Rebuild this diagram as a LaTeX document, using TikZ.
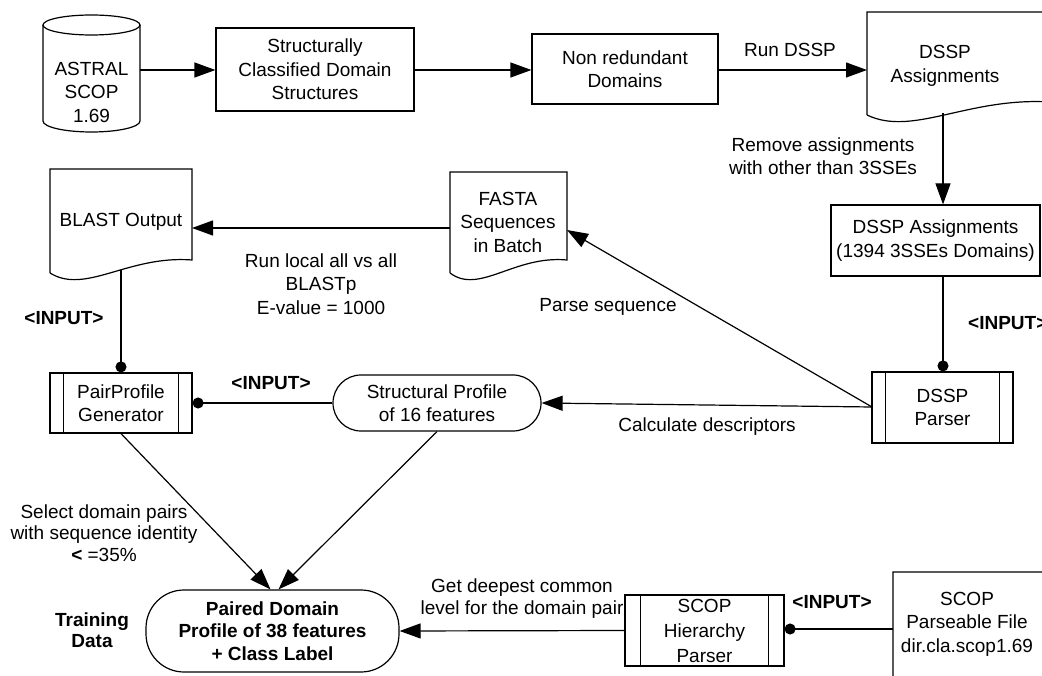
\documentclass[tikz,border=0pt]{standalone}
\usepackage{fontspec}
\setmainfont{Liberation Sans}
\usetikzlibrary{arrows.meta}
\newcommand{\docshape}[4]{%
  \pgfmathsetmacro{\dw}{#3-#1}%
  \draw[line width=1.2pt] (#1,#4) -- (#1,#2) -- (#3,#2) -- (#3,#4-13) .. controls ({#1+0.55*\dw},#4-18) and ({#1+0.25*\dw},#4+22) .. (#1,#4);
}
\newcommand{\procbars}[2]{%
  \draw[line width=1.2pt] ([xshift=#2pt]#1.north west) -- ([xshift=#2pt]#1.south west);
  \draw[line width=1.2pt] ([xshift=-#2pt]#1.north east) -- ([xshift=-#2pt]#1.south east);
}
\begin{document}
\begin{tikzpicture}[x=1pt,y=-1pt,
  every node/.style={font=\fontsize{19}{23.5}\selectfont, align=center, inner sep=0pt},
  box/.style={draw, line width=1.2pt},
  stadium/.style={draw, line width=1.2pt},
  lbl/.style={font=\fontsize{19}{23.5}\selectfont},
  blbl/.style={font=\fontsize{19}{23.5}\selectfont\bfseries},
  arr/.style={line width=1.2pt, -{Triangle[length=21pt,width=15pt]}},
  dotarr/.style={line width=1.2pt, -{Circle[length=11pt]}}
]
\useasboundingbox (0,0) rectangle (1042,676);
\fill[white] (0,0) rectangle (1042,676);
\clip (0,0) rectangle (1042,676);

% ASTRAL cylinder
\draw[line width=1.2pt] (43,25) -- (43,121) arc[start angle=180, end angle=0, x radius=48.5, y radius=11] -- (140,25);
\draw[line width=1.2pt] (91.5,25) ellipse [x radius=48.5, y radius=10];
\node (cyl) at (91.5,92) {ASTRAL\\SCOP\\1.69};
\coordinate (cylR) at (140,70);

% top row boxes
\node[box, minimum width=198pt, minimum height=83pt] (box1) at (315,69.5) {Structurally\\Classified Domain\\Structures};
\node[box, minimum width=186pt, minimum height=70pt] (box2) at (625,69) {Non redundant\\Domains};

% DSSP Assignments document
\docshape{867}{12}{1050}{115}
\node (dsspt) at (945,66) {DSSP\\Assignments};
\coordinate (dsspin) at (867,70);
\coordinate (dsspout) at (943,113);

% DSSP Assignments (1394)
\node[box, minimum width=209pt, minimum height=71pt] (da2) at (935.5,240.5) {DSSP Assignments\\(1394 3SSEs Domains)};

% DSSP Parser
\node[box, minimum width=141pt, minimum height=71pt] (dp) at (942.5,407.5) {DSSP\\Parser};
\procbars{dp}{14}
\coordinate (dpW) at (872,407);

% FASTA document
\docshape{450}{172}{567}{273}
\node (fastat) at (508,222) {FASTA\\Sequences\\in Batch};
\coordinate (fastaR) at (567,230);
\coordinate (fastaL) at (450,228);

% BLAST document
\docshape{50}{169}{192}{273}
\node (blastt) at (121,222) {BLAST Output};
\coordinate (blastR) at (192,228);
\coordinate (blastB) at (121,270);

% PairProfile Generator
\node[box, minimum width=142pt, minimum height=60pt] (pp) at (121,403) {PairProfile\\Generator};
\procbars{pp}{14}

% Structural Profile
\node[stadium, rounded corners=28pt, minimum width=208pt, minimum height=56pt] (sp) at (437,403) {Structural Profile\\of 16 features};

% Paired Domain
\node[stadium, rounded corners=38pt, minimum width=253pt, minimum height=82pt, font=\fontsize{19}{22.5}\selectfont\bfseries] (pd) at (272.5,631) {Paired Domain\\Profile of 38 features\\+ Class Label};

% SCOP Hierarchy Parser
\node[box, minimum width=159pt, minimum height=71pt, font=\fontsize{19}{25}\selectfont] (sh) at (704.5,630.5) {SCOP\\Hierarchy\\Parser};
\procbars{sh}{16}

% SCOP parseable file
\docshape{893}{572}{1060}{690}
\node (scopt) at (967,624) {SCOP\\Parseable File\\dir.cla.scop1.69};
\coordinate (scopL) at (893,629);

% connectors
\draw[arr] (cylR) -- (box1.west |- cylR);
\draw[arr] (box1.east |- cylR) -- (box2.west |- cylR);
\draw[arr] (box2.east |- dsspin) -- (dsspin);
\draw[arr] (dsspout) -- (dsspout |- da2.north);
\draw[dotarr] (dsspout |- da2.south) -- (dsspout |- dp.north);
\draw[arr] (dpW) -- (sp.east);
\draw[arr] (dpW) -- (fastaR);
\draw[arr] (fastaL) -- (blastR);
\draw[dotarr] (blastB) -- (pp.north);
\draw[dotarr] (sp.west) -- (pp.east);
\draw[arr] (pp.south) -- ([xshift=-2pt]pd.north);
\draw[arr] (sp.south) -- ([xshift=6pt]pd.north);
\draw[arr] (sh.west) -- (pd.east);
\draw[dotarr] (scopL) -- (sh.east |- scopL);

% labels
\node[lbl] (l1) at (790,50) {Run DSSP};
\node[lbl] (l2) at (823,156) {Remove assignments\\with other than 3SSEs};
\node[blbl, anchor=west] (l3) at (968,323) {<INPUT>};
\node[lbl] (l4) at (707,427) {Calculate descriptors};
\node[lbl] (l5) at (608,307) {Parse sequence};
\node[lbl] (l6) at (321,284) {Run local all vs all\\BLASTp\\E-value = 1000};
\node[blbl] (l7) at (64,318) {<INPUT>};
\node[blbl] (l8) at (271,383) {<INPUT>};
\node[lbl, font=\fontsize{19}{21.5}\selectfont] (l9) at (104,533) {Select domain pairs\\with sequence identity\\{\bfseries <} =35\%};
\node[blbl, font=\fontsize{19}{21.5}\selectfont\bfseries] (l10) at (92,630) {Training\\Data};
\node[lbl, font=\fontsize{19}{22}\selectfont] (l11) at (522,599) {Get deepest common\\level for the domain pair};
\node[blbl] (l12) at (832,602) {<INPUT>};
\end{tikzpicture}
\end{document}
